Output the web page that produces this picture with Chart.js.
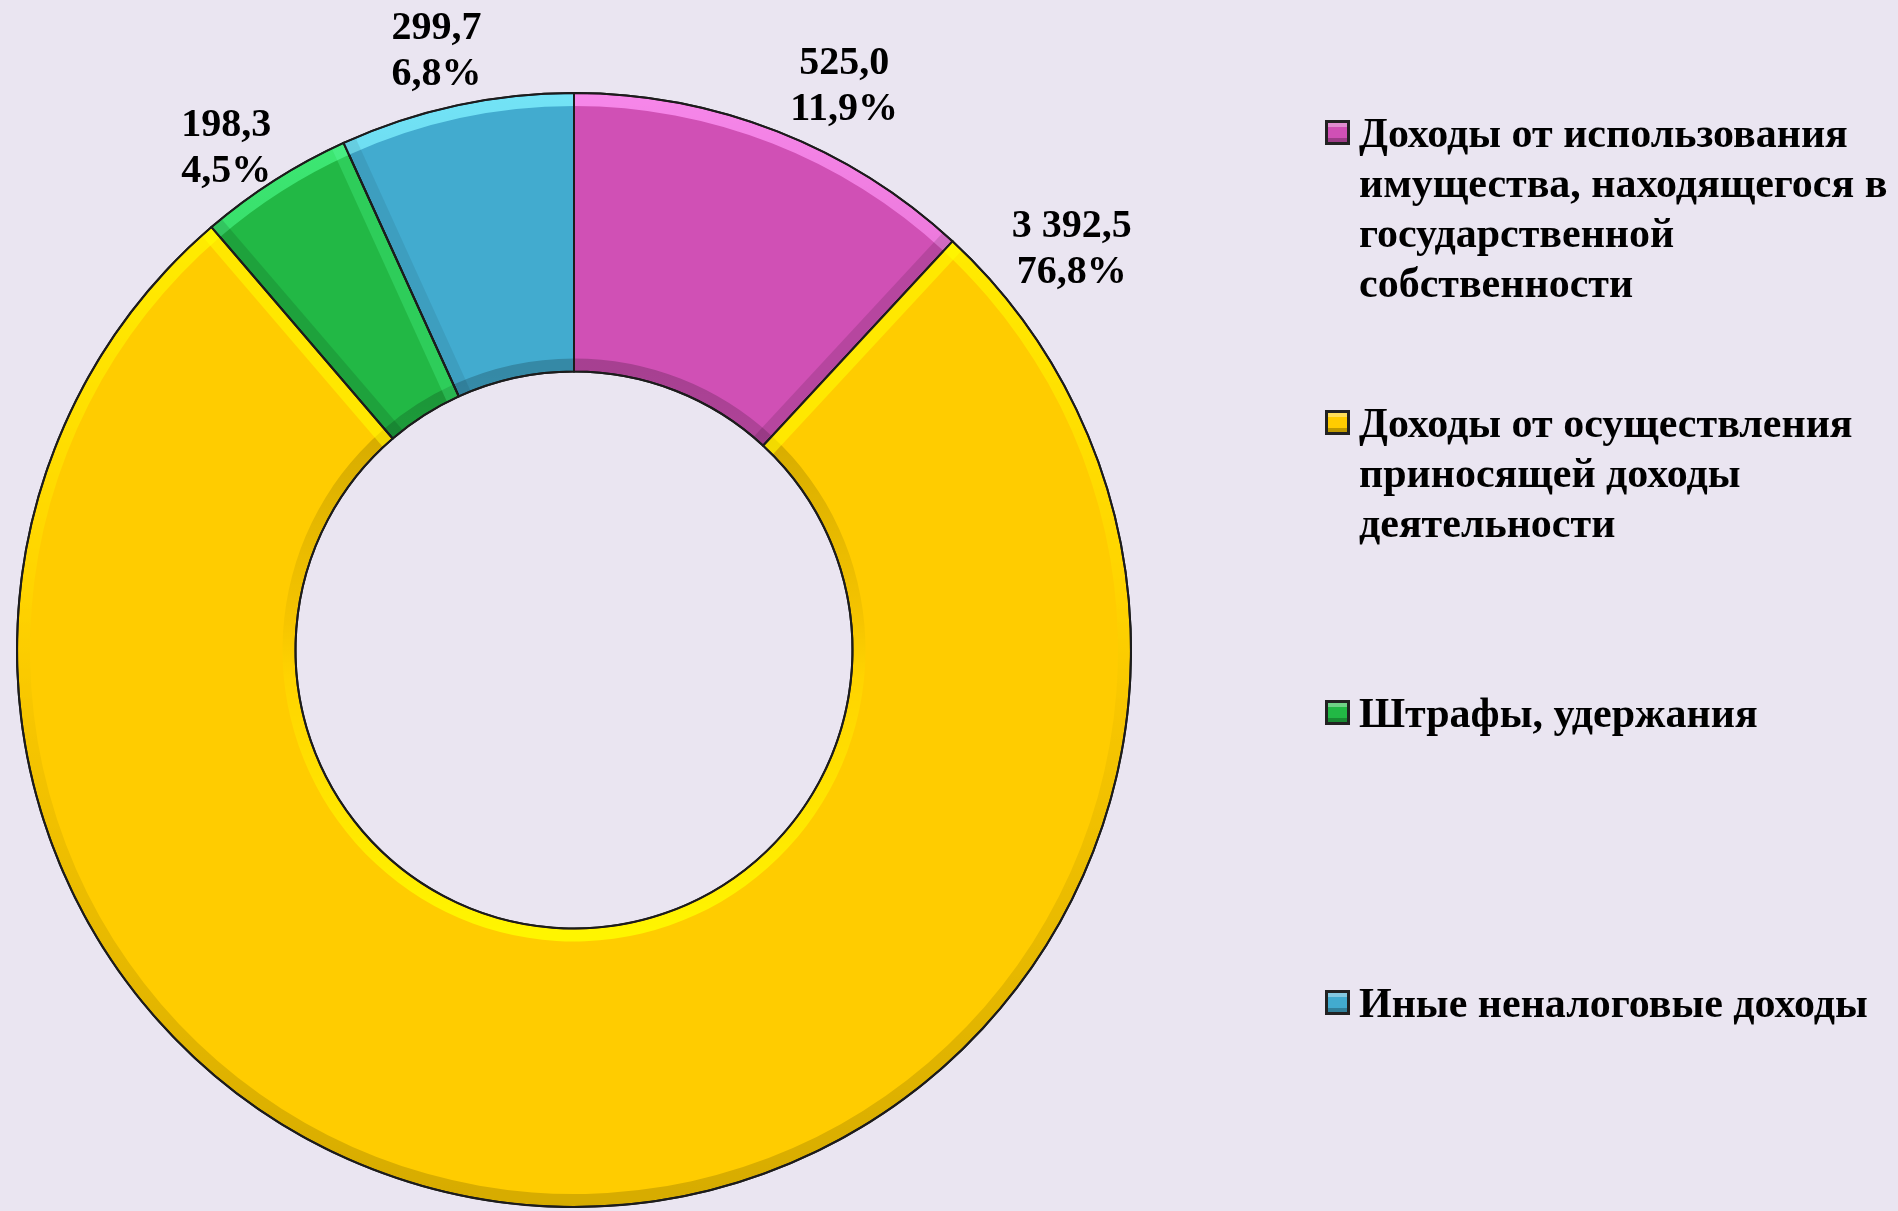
<!DOCTYPE html>
<html lang="ru">
<head>
<meta charset="utf-8">
<title>Неналоговые доходы</title>
<script src="https://cdn.jsdelivr.net/npm/chart.js@4.4.1/dist/chart.umd.min.js"></script>
<style>
  html, body { margin: 0; padding: 0; background: #EAE5F1; }
  body { width: 1898px; height: 1211px; position: relative; overflow: hidden;
         font-family: 'Liberation Serif', 'Times New Roman', serif; }
  #chart { position: absolute; left: 0; top: 0; }
  #legend { position: absolute; left: 1325px; top: 108px; width: 573px; }
  .item { height: 290px; }
  .row { display: flex; align-items: flex-start; }
  .box { width: 19px; height: 19px; border: 3px solid #222; margin-top: 12px; margin-right: 9px; flex: none; }
  .txt { font-weight: bold; font-size: 42px; line-height: 50px; color: #000; width: 545px; }
</style>
</head>
<body>
<canvas id="chart" width="1898" height="1211"></canvas>
<div id="legend"></div>
<script>
const categories = [
    'Доходы от использования имущества, находящегося в государственной собственности',
    'Доходы от осуществления приносящей доходы деятельности',
    'Штрафы, удержания',
    'Иные неналоговые доходы'
];
const values = [525.0, 3392.5, 198.3, 299.7];
const sliceColors = ['#D050B5', '#FFCC00', '#22B845', '#42ABCF'];

// small hand nudges for the value labels, as they were placed in the original
const labelNudge = [[45, 10], [0, -4], [-16, 18], [-7, 4]];

const total = values.reduce((a, b) => a + b, 0);

function fmtValue(v) {
    const parts = v.toFixed(1).split('.');
    return parts[0].replace(/\B(?=(\d{3})+(?!\d))/g, ' ') + ',' + parts[1];
}
function fmtPct(share) {
    return (share * 100).toFixed(1).replace('.', ',') + '%';
}

function sectorPath(ctx, x, y, r0, r1, a0, a1) {
    ctx.beginPath();
    ctx.arc(x, y, r1, a0, a1);
    ctx.arc(x, y, r0, a1, a0, true);
    ctx.closePath();
}

// rough 3D bevel: light falls from the top
const bevelPlugin = {
    id: 'bevel',
    afterDatasetsDraw(chart) {
        const ctx = chart.ctx;
        const band = 13;
        chart.getDatasetMeta(0).data.forEach((arc, i) => {
            const {x, y, startAngle, endAngle, innerRadius, outerRadius} = arc;
            const color = sliceColors[i];
            ctx.save();
            sectorPath(ctx, x, y, innerRadius + 1, outerRadius - 1, startAngle, endAngle);
            ctx.clip();

            // outer edge
            let g = ctx.createLinearGradient(0, y - outerRadius, 0, y + outerRadius);
            g.addColorStop(0, color);
            g.addColorStop(0.55, '#000');
            ctx.globalCompositeOperation = 'screen';
            sectorPath(ctx, x, y, outerRadius - band, outerRadius, startAngle, endAngle);
            ctx.fillStyle = g;
            ctx.fill();
            ctx.globalCompositeOperation = 'source-over';
            g = ctx.createLinearGradient(0, y - outerRadius, 0, y + outerRadius);
            g.addColorStop(0.45, 'rgba(0,0,0,0)');
            g.addColorStop(1, 'rgba(0,0,0,0.16)');
            ctx.fillStyle = g;
            ctx.fill();

            // inner edge
            sectorPath(ctx, x, y, innerRadius, innerRadius + band, startAngle, endAngle);
            g = ctx.createLinearGradient(0, y - innerRadius, 0, y + innerRadius);
            g.addColorStop(0, 'rgba(0,0,0,0.2)');
            g.addColorStop(0.55, 'rgba(0,0,0,0)');
            ctx.fillStyle = g;
            ctx.fill();
            g = ctx.createLinearGradient(0, y - innerRadius, 0, y + innerRadius);
            g.addColorStop(0.45, '#000');
            g.addColorStop(1, color);
            ctx.globalCompositeOperation = 'screen';
            ctx.fillStyle = g;
            ctx.fill();

            // radial edges
            [[startAngle, -Math.PI / 2], [endAngle, Math.PI / 2]].forEach(([a, off]) => {
                const light = -Math.sin(a + off);
                ctx.beginPath();
                ctx.moveTo(x + Math.cos(a) * innerRadius, y + Math.sin(a) * innerRadius);
                ctx.lineTo(x + Math.cos(a) * outerRadius, y + Math.sin(a) * outerRadius);
                ctx.lineWidth = band * 2;
                if (light > 0) {
                    ctx.globalCompositeOperation = 'screen';
                    ctx.globalAlpha = light;
                    ctx.strokeStyle = color;
                } else {
                    ctx.globalCompositeOperation = 'source-over';
                    ctx.globalAlpha = -light * 0.18;
                    ctx.strokeStyle = '#000';
                }
                ctx.stroke();
            });
            ctx.restore();

            // outline on top
            ctx.save();
            sectorPath(ctx, x, y, innerRadius, outerRadius, startAngle, endAngle);
            ctx.lineWidth = 2;
            ctx.strokeStyle = '#1c1c1c';
            ctx.stroke();
            ctx.restore();
        });
    }
};

const labelPlugin = {
    id: 'valueLabels',
    afterDraw(chart) {
        const ctx = chart.ctx;
        ctx.save();
        ctx.font = 'bold 40px "Liberation Serif"';
        ctx.fillStyle = '#000';
        ctx.textAlign = 'center';
        ctx.textBaseline = 'middle';
        chart.getDatasetMeta(0).data.forEach((arc, i) => {
            const share = values[i] / total;
            let a, d;
            if (share > 0.5) {
                // big slice: label sits near its start, like in the original
                a = arc.startAngle + 0.15;
                d = 80;
            } else {
                a = (arc.startAngle + arc.endAngle) / 2;
                d = 60;
            }
            const cx = arc.x + Math.cos(a) * (arc.outerRadius + d) + labelNudge[i][0];
            const cy = arc.y + Math.sin(a) * (arc.outerRadius + d) + labelNudge[i][1];
            ctx.fillText(fmtValue(values[i]), cx, cy - 22);
            ctx.fillText(fmtPct(share), cx, cy + 24);
        });
        ctx.restore();
    }
};

const ctx = document.getElementById('chart').getContext('2d');

const myChart = new Chart(ctx, {
    type: 'doughnut',
    data: {
        labels: categories,
        datasets: [{
            data: values,
            backgroundColor: sliceColors,
            borderColor: '#1c1c1c',
            borderWidth: 2
        }]
    },
    options: {
        responsive: false,
        animation: false,
        events: [],
        cutout: '50%',
        layout: {
            padding: {left: 15, top: 92, right: 765, bottom: 3}
        },
        plugins: {
            legend: {display: false},
            tooltip: {enabled: false}
        }
    },
    plugins: [bevelPlugin, labelPlugin]
});

// legend on the right, built from the same arrays
const legend = document.getElementById('legend');
categories.forEach((name, i) => {
    const item = document.createElement('div');
    item.className = 'item';
    const row = document.createElement('div');
    row.className = 'row';
    const box = document.createElement('div');
    box.className = 'box';
    box.style.background = sliceColors[i];
    box.style.boxShadow = 'inset 0 4px 0 rgba(255,255,255,0.35), inset 0 -4px 0 rgba(0,0,0,0.25)';
    const txt = document.createElement('div');
    txt.className = 'txt';
    txt.textContent = name;
    row.appendChild(box);
    row.appendChild(txt);
    item.appendChild(row);
    legend.appendChild(item);
});
</script>
</body>
</html>
